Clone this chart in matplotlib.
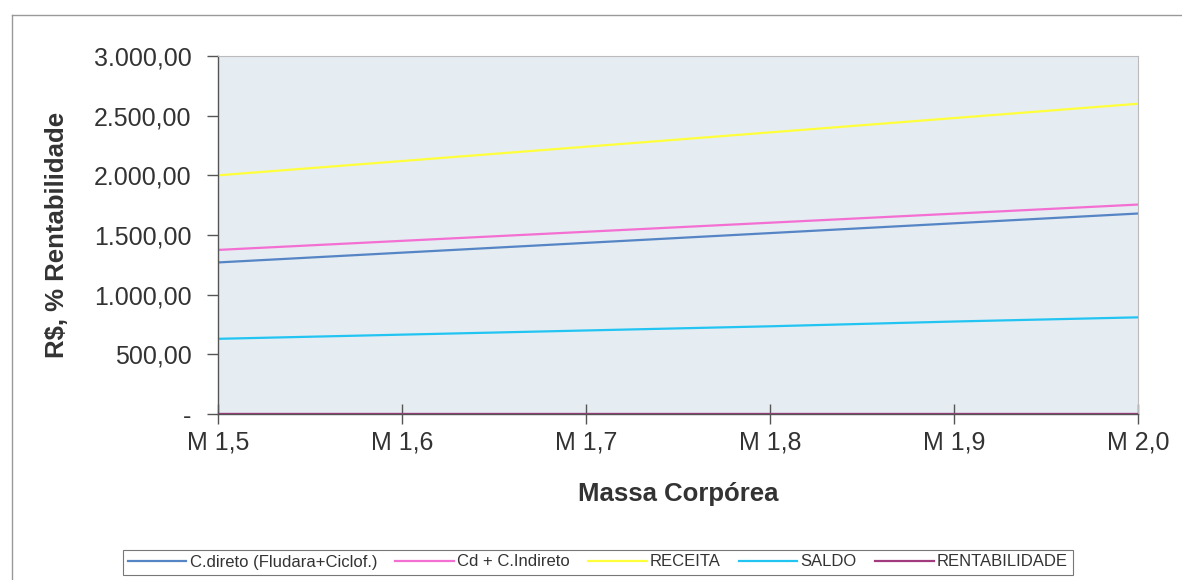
import matplotlib.pyplot as plt
from matplotlib.ticker import FuncFormatter

# Dados
massa = ["M 1,5", "M 1,6", "M 1,7", "M 1,8", "M 1,9", "M 2,0"]
c_direto = [1270, 1352, 1434, 1516, 1598, 1680]
cd_indireto = [1375, 1451, 1527, 1603, 1679, 1755]
receita = [2000, 2120, 2240, 2360, 2480, 2600]
saldo = [630, 665, 700, 735, 775, 810]
rentabilidade = [0.50, 0.49, 0.49, 0.48, 0.47, 0.47]

series = [
    ("C.direto (Fludara+Ciclof.)", c_direto, "#5585C5"),
    ("Cd + C.Indireto", cd_indireto, "#F46FD2"),
    ("RECEITA", receita, "#FFFF3C"),
    ("SALDO", saldo, "#22C4F2"),
    ("RENTABILIDADE", rentabilidade, "#A23A7E"),
]

plt.rcParams['font.family'] = ['Liberation Sans', 'DejaVu Sans']
txt = "#333333"

fig = plt.figure(figsize=(11.82, 5.80), dpi=100)
ax = fig.add_axes([218 / 1182, 1 - 414 / 580, 920 / 1182, 358 / 580])
ax.set_facecolor("#E5ECF2")

x = list(range(len(massa)))
for name, vals, col in series:
    ax.plot(x, vals, color=col, lw=1.6, label=name)

ax.set_xlim(0, len(massa) - 1)
ax.set_ylim(0, 3000)
ax.set_yticks([0, 500, 1000, 1500, 2000, 2500, 3000])


def fmt(v, pos):
    if v == 0:
        return "-"
    s = f"{v:,.2f}"
    return s.replace(",", "X").replace(".", ",").replace("X", ".")


ax.yaxis.set_major_formatter(FuncFormatter(fmt))
ax.set_xticks(x)
ax.set_xticklabels(massa)

for side in ["top", "right"]:
    ax.spines[side].set_color("#BBBBBB")
    ax.spines[side].set_linewidth(0.8)
for side in ["left", "bottom"]:
    ax.spines[side].set_color("#555555")
    ax.spines[side].set_linewidth(1.0)

ax.tick_params(axis="y", direction="out", length=8, width=1, color="#555555",
               labelsize=18, labelcolor=txt, pad=11)
ax.tick_params(axis="x", direction="inout", length=14, width=1, color="#555555",
               labelsize=18, labelcolor=txt, pad=5)

ax.set_xlabel("Massa Corpórea", fontsize=18.5, fontweight="bold", color=txt, labelpad=20)
ax.set_ylabel("R$, % Rentabilidade", fontsize=18.5, fontweight="bold", color=txt, labelpad=18)

leg = fig.legend(loc="center", bbox_to_anchor=(598 / 1182, 1 - 562 / 580), ncol=5,
                 fontsize=12, frameon=True, fancybox=False, handlelength=3.5,
                 handletextpad=0.2, columnspacing=1.1, borderpad=0.3,
                 labelcolor=txt)
leg.get_frame().set_edgecolor("#555555")
leg.get_frame().set_linewidth(0.8)

# moldura externa
fig.add_artist(plt.Line2D([12 / 1182, 12 / 1182], [0, 1 - 15 / 580],
                          transform=fig.transFigure, color="#999999", lw=1))
fig.add_artist(plt.Line2D([12 / 1182, 1], [1 - 15 / 580, 1 - 15 / 580],
                          transform=fig.transFigure, color="#999999", lw=1))

fig.savefig("out.png", dpi=100, facecolor="white")
